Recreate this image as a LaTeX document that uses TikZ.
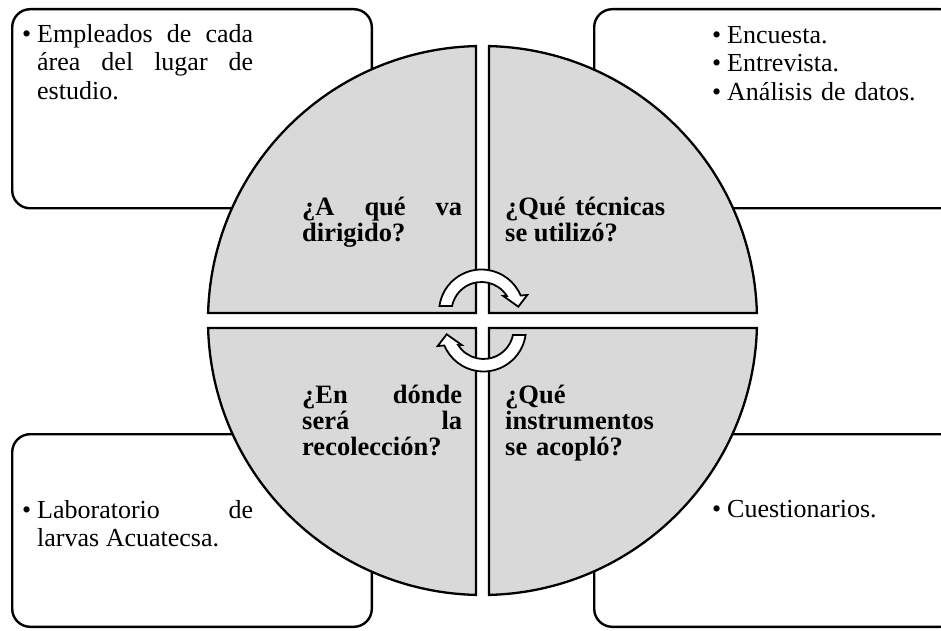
\documentclass[tikz,border=0pt]{standalone}
\usepackage{fontspec}
\setmainfont{Liberation Serif}
\usetikzlibrary{calc}
\hyphenpenalty=10000

\tikzset{
  infobox/.style={draw=black, line width=2.4pt, fill=white, rounded corners=18pt},
  quadrant/.style={draw=black, line width=2.3pt, fill=gray!30, line join=miter},
  cyclearrow/.style={draw=black, line width=1.8pt, fill=white, line join=miter},
  bodytext/.style={inner sep=0pt, anchor=base west, font=\fontsize{26}{28.6}\selectfont},
  question/.style={inner sep=0pt, anchor=base west, text width=160pt, align=justify,
    font=\fontsize{26.5}{26}\selectfont\bfseries},
  pics/turnarrow/.style={code={
    \draw[cyclearrow] (171.9:42.5pt) arc[start angle=171.9, end angle=22.8, radius=42.5pt]
      -- (45.8pt,17pt) -- (36.8pt,5.3pt) -- (21.8pt,16pt)
      -- (32.4:30pt) arc[start angle=32.4, end angle=168.5, radius=30pt] -- cycle;
  }},
}
% bullet followed by a justified block with hanging indent
\newcommand{\bulletblock}[1]{\makebox[15pt][l]{•}\parbox[t]{216pt}{#1}}
\newcommand{\plainbullet}{\makebox[15pt][l]{•}}

\begin{document}
\begin{tikzpicture}[x=1pt, y=1pt]
  \useasboundingbox (0,0) rectangle (941,630);
  \clip (0,0) rectangle (941,630);

  % outer answer boxes
  \draw[infobox] (12.2,421.7) rectangle (371.8,620.8);
  \draw[infobox] (594.2,421.7) rectangle (958,620.8);
  \draw[infobox] (12.2,3.2) rectangle (371.8,195.8);
  \draw[infobox] (594.2,3.2) rectangle (958,195.8);

  % central circle split into four quadrants
  \coordinate (c) at (482.5,309.5);
  \draw[quadrant] ($(c)+(-6.5,7.5)$) -- ($(c)+(91.36:274.5)$)
    arc[start angle=91.36, end angle=178.43, radius=274.5] -- cycle;
  \draw[quadrant] ($(c)+(6.5,7.5)$) -- ($(c)+(88.64:274.5)$)
    arc[start angle=88.64, end angle=1.57, radius=274.5] -- cycle;
  \draw[quadrant] ($(c)+(-6.5,-7.5)$) -- ($(c)+(181.57:274.5)$)
    arc[start angle=181.57, end angle=268.64, radius=274.5] -- cycle;
  \draw[quadrant] ($(c)+(6.5,-7.5)$) -- ($(c)+(271.36:274.5)$)
    arc[start angle=271.36, end angle=358.43, radius=274.5] -- cycle;

  % circular arrows in the middle
  \pic at (481.5,318) {turnarrow};
  \pic[rotate=180] at (483.5,301) {turnarrow};

  % questions
  \node[question] (qtl) at (302,414.3) {¿A qué va\linebreak dirigido?};
  \node[question] (qtr) at (505,414.3) {¿Qué técnicas\linebreak se utilizó?};
  \node[question] (qbl) at (302,226.7) {¿En dónde\linebreak será la\linebreak recolección?};
  \node[question, align=left] (qbr) at (505,226.7) {¿Qué\\instrumentos\\se acopló?};

  % answers
  \node[bodytext] (atl) at (22,587.7)
    {\bulletblock{Empleados de cada\linebreak área del lugar de\linebreak estudio.}};
  \node[bodytext, text width=220pt, align=left] (atr) at (712,586.7)
    {\plainbullet{}Encuesta.\\\plainbullet{}Entrevista.\\\plainbullet{}Análisis de datos.};
  \node[bodytext] (abl) at (22,111.7)
    {\bulletblock{Laboratorio de\linebreak larvas Acuatecsa.}};
  \node[bodytext] (abr) at (712,112.7) {\plainbullet{}Cuestionarios.};
\end{tikzpicture}
\end{document}
